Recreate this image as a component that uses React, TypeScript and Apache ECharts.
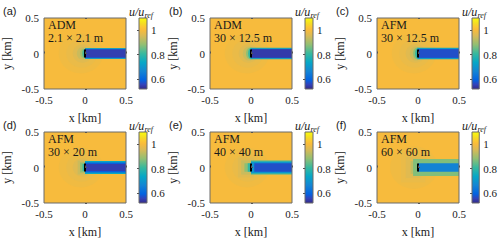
import React, { useEffect, useRef } from 'react';
import * as echarts from 'echarts';

const panelLabels = ['(a)', '(b)', '(c)', '(d)', '(e)', '(f)'];
const methods = ['ADM', 'ADM', 'AFM', 'AFM', 'AFM', 'AFM'];
const resolutions = ['2.1 × 2.1 m', '30 × 12.5 m', '30 × 12.5 m', '30 × 20 m', '40 × 40 m', '60 × 60 m'];
const axisRange = [-0.5, 0.5];
const colorbarTicks = [0.6, 0.8, 1];
const colorRange = [0.52, 1.1];
const rotorY = [-0.055, 0.055];

// regions of the normalised velocity field u/u_ref: [shape, x0, x1, y0, y1, u] (km)
type Region = [string, number, number, number, number, number];
const fieldA: Region[] = [
  ['r', -0.5, 0.5, -0.5, 0.5, 1.0],
  ['e', -0.32, 0.22, -0.28, 0.28, 0.99],
  ['e', -0.23, 0.15, -0.2, 0.2, 0.98],
  ['e', -0.15, 0.09, -0.13, 0.13, 0.965],
  ['e', -0.1, 0.05, -0.09, 0.09, 0.94],
  ['e', -0.06, 0.03, -0.07, 0.07, 0.9],
  ['e', -0.035, 0.015, -0.06, 0.06, 0.84],
  ['e', -0.018, 0.006, -0.055, 0.055, 0.78],
  ['r', 0, 0.5, -0.076, 0.076, 0.78],
  ['r', 0, 0.5, -0.066, 0.066, 0.6],
  ['r', 0, 0.5, -0.058, 0.058, 0.55],
];
const fieldB: Region[] = [
  ['r', -0.5, 0.5, -0.5, 0.5, 1.0],
  ['e', -0.32, 0.22, -0.28, 0.28, 0.99],
  ['e', -0.23, 0.15, -0.2, 0.2, 0.98],
  ['e', -0.15, 0.09, -0.13, 0.13, 0.965],
  ['e', -0.1, 0.05, -0.1, 0.1, 0.94],
  ['e', -0.06, 0.03, -0.08, 0.08, 0.88],
  ['e', -0.035, 0.015, -0.07, 0.07, 0.8],
  ['r', -0.01, 0.5, -0.08, 0.08, 0.78],
  ['r', 0, 0.5, -0.068, 0.068, 0.6],
  ['r', 0, 0.5, -0.06, 0.06, 0.545],
];
const fieldC: Region[] = [
  ['r', -0.5, 0.5, -0.5, 0.5, 1.0],
  ['e', -0.32, 0.22, -0.28, 0.28, 0.99],
  ['e', -0.23, 0.15, -0.2, 0.2, 0.98],
  ['e', -0.15, 0.09, -0.13, 0.13, 0.965],
  ['e', -0.1, 0.05, -0.1, 0.1, 0.94],
  ['e', -0.06, 0.03, -0.08, 0.08, 0.88],
  ['e', -0.035, 0.015, -0.07, 0.07, 0.8],
  ['r', -0.01, 0.5, -0.08, 0.08, 0.76],
  ['r', 0, 0.5, -0.068, 0.068, 0.62],
  ['r', 0, 0.5, -0.06, 0.06, 0.57],
];
const fieldD: Region[] = [
  ['r', -0.5, 0.5, -0.5, 0.5, 1.0],
  ['e', -0.32, 0.22, -0.28, 0.28, 0.99],
  ['e', -0.23, 0.15, -0.2, 0.2, 0.98],
  ['e', -0.15, 0.09, -0.13, 0.13, 0.965],
  ['r', -0.09, 0.03, -0.1, 0.1, 0.94],
  ['r', -0.06, 0, -0.07, 0.07, 0.88],
  ['r', -0.03, 0, -0.05, 0.05, 0.8],
  ['r', 0, 0.5, -0.09, 0.09, 0.74],
  ['r', 0, 0.5, -0.07, 0.07, 0.59],
  ['r', 0, 0.5, -0.05, 0.05, 0.55],
];
const fieldE: Region[] = [
  ['r', -0.5, 0.5, -0.5, 0.5, 1.0],
  ['e', -0.32, 0.22, -0.28, 0.28, 0.99],
  ['e', -0.23, 0.15, -0.2, 0.2, 0.98],
  ['r', -0.16, 0.04, -0.14, 0.14, 0.965],
  ['r', -0.12, 0, -0.1, 0.1, 0.94],
  ['r', -0.08, 0, -0.06, 0.06, 0.88],
  ['r', -0.04, 0.04, -0.06, 0.06, 0.8],
  ['r', 0, 0.5, -0.1, 0.1, 0.82],
  ['r', 0, 0.5, -0.08, 0.08, 0.7],
  ['r', 0.04, 0.5, -0.06, 0.06, 0.57],
];
const fieldF: Region[] = [
  ['r', -0.5, 0.5, -0.5, 0.5, 1.0],
  ['e', -0.34, 0.24, -0.3, 0.3, 0.99],
  ['r', -0.21, 0.09, -0.21, 0.21, 0.98],
  ['r', -0.15, 0.03, -0.15, 0.15, 0.965],
  ['r', -0.09, 0.03, -0.09, 0.09, 0.93],
  ['r', -0.06, 0.5, -0.12, 0.12, 0.87],
  ['r', 0, 0.5, -0.06, 0.06, 0.66],
];
const fields = [fieldA, fieldB, fieldC, fieldD, fieldE, fieldF];

// parula colormap stops [t, colour]
const parula: [number, string][] = [
  [0.0, '#352A87'],
  [0.063, '#3243BA'],
  [0.127, '#0363E1'],
  [0.25, '#1485D4'],
  [0.375, '#06A7C6'],
  [0.5, '#38B99E'],
  [0.625, '#92BF73'],
  [0.75, '#D9BA56'],
  [0.83, '#F8BB3C'],
  [0.875, '#FCC733'],
  [0.92, '#F5DB25'],
  [1.0, '#F9FB0E'],
];

function hexToRgb(h: string) {
  const n = parseInt(h.slice(1), 16);
  return [(n >> 16) & 255, (n >> 8) & 255, n & 255];
}
function colourOf(u: number) {
  let t = (u - colorRange[0]) / (colorRange[1] - colorRange[0]);
  t = Math.max(0, Math.min(1, t));
  for (let k = 1; k < parula.length; k++) {
    if (t <= parula[k][0]) {
      const [t0, c0] = parula[k - 1];
      const [t1, c1] = parula[k];
      const f = (t - t0) / (t1 - t0);
      const a = hexToRgb(c0), b = hexToRgb(c1);
      const c = a.map((v, j) => Math.round(v + (b[j] - v) * f));
      return `rgb(${c[0]},${c[1]},${c[2]})`;
    }
  }
  return parula[parula.length - 1][1];
}

const SERIF = '"Liberation Serif", "Times New Roman", serif';
const SANS = '"Liberation Sans", Arial, sans-serif';
const TEXT = '#1a1a1a';
const colLeft = [44, 210, 377];
const rowTop = [18, 132];
const plotW = 82;
const plotH = 71;
const cbGap = 95;
const cbW = 8;

export default function App() {
  const ref = useRef<HTMLDivElement>(null);
  useEffect(() => {
    document.body.style.margin = '0';
    const chart = echarts.init(ref.current!, null, { renderer: 'svg' });
    const grid: any[] = [];
    const xAxis: any[] = [];
    const yAxis: any[] = [];
    const series: any[] = [];
    const graphic: any[] = [];
    for (let i = 0; i < 6; i++) {
      const col = i % 3;
      const row = Math.floor(i / 3);
      grid.push({ left: colLeft[col], top: rowTop[row], width: plotW, height: plotH, show: true, borderColor: '#6a6a6a', borderWidth: 1, backgroundColor: 'transparent', z: 10 });
    }
    for (let i = 0; i < 6; i++) {
      const col = i % 3;
      const row = Math.floor(i / 3);
      grid.push({ left: colLeft[col] + cbGap, top: rowTop[row], width: cbW, height: plotH, show: true, borderColor: '#6a6a6a', borderWidth: 1, backgroundColor: 'transparent', z: 10 });
    }
    for (let i = 0; i < 6; i++) {
      xAxis.push({
        gridIndex: i, type: 'value', min: axisRange[0], max: axisRange[1], interval: 0.5,
        name: 'x [km]', nameLocation: 'middle', nameGap: 23,
        nameTextStyle: { fontFamily: SERIF, fontSize: 12, color: TEXT },
        axisLabel: { fontFamily: SERIF, fontSize: 11, color: TEXT, margin: 5 },
        axisTick: { inside: true, length: 2, lineStyle: { color: '#555' } },
        axisLine: { show: false }, splitLine: { show: false }, z: 10,
      });
      yAxis.push({
        gridIndex: i, type: 'value', min: axisRange[0], max: axisRange[1], interval: 0.5,
        name: 'y [km]', nameLocation: 'middle', nameGap: 31, nameRotate: 90,
        nameTextStyle: { fontFamily: SERIF, fontSize: 12, color: TEXT },
        axisLabel: { fontFamily: SERIF, fontSize: 11, color: TEXT, margin: 5 },
        axisTick: { inside: true, length: 2, lineStyle: { color: '#555' } },
        axisLine: { show: false }, splitLine: { show: false }, z: 10,
      });
    }
    for (let i = 0; i < 6; i++) {
      xAxis.push({ gridIndex: 6 + i, type: 'value', min: 0, max: 1, show: false });
      yAxis.push({
        gridIndex: 6 + i, type: 'value', min: colorRange[0], max: colorRange[1], position: 'right',
        axisLabel: { customValues: colorbarTicks, fontFamily: SERIF, fontSize: 11, color: TEXT, margin: 4 },
        axisTick: { customValues: colorbarTicks, inside: true, length: 2, lineStyle: { color: '#555' } },
        axisLine: { show: false }, splitLine: { show: false }, z: 10,
      });
    }
    for (let i = 0; i < 6; i++) {
      const regions = fields[i];
      series.push({
        type: 'custom', xAxisIndex: i, yAxisIndex: i, silent: true, z: 1,
        data: regions.map((r) => r.slice(1)),
        renderItem: (params: any, api: any) => {
          const shape = regions[params.dataIndex][0];
          const p0 = api.coord([api.value(0), api.value(3)]);
          const p1 = api.coord([api.value(1), api.value(2)]);
          const w = p1[0] - p0[0];
          const h = p1[1] - p0[1];
          const fill = colourOf(api.value(4));
          if (shape === 'e') {
            return { type: 'ellipse', shape: { cx: p0[0] + w / 2, cy: p0[1] + h / 2, rx: w / 2, ry: h / 2 }, style: { fill } };
          }
          return { type: 'rect', shape: { x: p0[0], y: p0[1], width: w, height: h }, style: { fill } };
        },
        clip: true,
      });
      series.push({
        type: 'line', xAxisIndex: i, yAxisIndex: i, silent: true, symbol: 'none', z: 3,
        data: [[0, rotorY[0]], [0, rotorY[1]]],
        lineStyle: { color: '#000', width: 2 },
      });
      series.push({
        type: 'custom', xAxisIndex: 6 + i, yAxisIndex: 6 + i, silent: true, z: 1,
        data: [[colorRange[0], colorRange[1]]],
        renderItem: (params: any, api: any) => {
          const p0 = api.coord([0, api.value(1)]);
          const p1 = api.coord([1, api.value(0)]);
          return {
            type: 'rect',
            shape: { x: p0[0], y: p0[1], width: p1[0] - p0[0], height: p1[1] - p0[1] },
            style: {
              fill: new echarts.graphic.LinearGradient(0, 0, 0, 1,
                parula.map(([t, c]) => ({ offset: 1 - t, color: c })).reverse()),
            },
          };
        },
      });
    }
    for (let i = 0; i < 6; i++) {
      const col = i % 3;
      const row = Math.floor(i / 3);
      const L = colLeft[col];
      const T = rowTop[row];
      graphic.push({ type: 'text', z: 100, left: L - 41, top: T - 13, style: { text: panelLabels[i], font: `11px ${SANS}`, fill: TEXT } });
      graphic.push({ type: 'text', z: 100, left: L + 4, top: T + 1, style: { text: methods[i], font: `12px ${SERIF}`, fill: TEXT } });
      graphic.push({ type: 'text', z: 100, left: L + 4, top: T + 14, style: { text: resolutions[i], font: `12px ${SERIF}`, fill: TEXT } });
      const cx = L + cbGap + cbW / 2;
      graphic.push({ type: 'text', z: 100, left: cx - 14, top: T - 12, style: { text: 'u/u', font: `italic 12px ${SERIF}`, fill: TEXT } });
      graphic.push({ type: 'text', z: 100, left: cx + 1.5, top: T - 7, style: { text: 'ref', font: `italic 8px ${SERIF}`, fill: TEXT } });
    }
    chart.setOption({ animation: false, grid, xAxis, yAxis, series, graphic });
    return () => chart.dispose();
  }, []);
  return <div ref={ref} style={{ position: 'fixed', left: 0, top: 0, width: 500, height: 240, background: '#fff' }} />;
}
